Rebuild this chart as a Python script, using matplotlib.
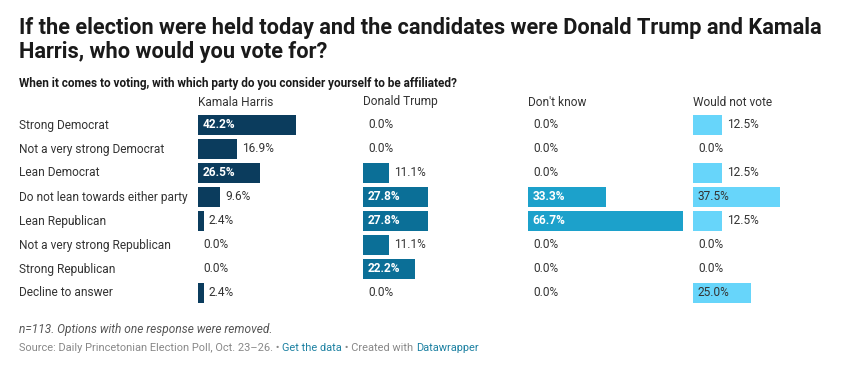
import matplotlib
matplotlib.use("Agg")
import matplotlib.pyplot as plt

plt.rcParams['font.family'] = ['Roboto', 'DejaVu Sans']

categories = ['Strong Democrat', 'Not a very strong Democrat', 'Lean Democrat',
              'Do not lean towards either party', 'Lean Republican',
              'Not a very strong Republican', 'Strong Republican', 'Decline to answer']
columns = ['Kamala Harris', 'Donald Trump', "Don't know", 'Would not vote']
harris = [42.2, 16.9, 26.5, 9.6, 2.4, 0.0, 0.0, 2.4]
trump = [0.0, 0.0, 11.1, 27.8, 27.8, 11.1, 22.2, 0.0]
dont_know = [0.0, 0.0, 0.0, 33.3, 66.7, 0.0, 0.0, 0.0]
no_vote = [12.5, 0.0, 12.5, 37.5, 12.5, 0.0, 0.0, 25.0]
series = [harris, trump, dont_know, no_vote]
colors = ['#0b3c5d', '#0b6f97', '#1ca1cb', '#67d5fa']
inside_text = ['white', 'white', 'white', '#333333']

W, H = 845, 370
fig = plt.figure(figsize=(W / 100, H / 100), dpi=100)

fig.text(19 / W, 1 - 28 / H, 'If the election were held today and the candidates were Donald Trump and Kamala',
         fontsize=15.7, fontweight='bold', color='#1a1a1a', va='center', ha='left')
fig.text(19 / W, 1 - 52 / H, 'Harris, who would you vote for?',
         fontsize=15.7, fontweight='bold', color='#1a1a1a', va='center', ha='left')
fig.text(19 / W, 1 - 83 / H, 'When it comes to voting, with which party do you consider yourself to be affiliated?',
         fontsize=8.5, fontweight='bold', color='#1a1a1a', va='center', ha='left')

row_top = 113      # top of first row (px)
row_h = 24.0
n = len(categories)
for i, c in enumerate(categories):
    fig.text(19 / W, 1 - (row_top + row_h * (i + 0.5)) / H, c, fontsize=8.6, color='#333333',
             va='center', ha='left')

x0s = [198, 363, 528, 693]
px_per = 2.33
ax_w = 155
for k in range(4):
    ax = fig.add_axes([x0s[k] / W, 1 - (row_top + row_h * n) / H, ax_w / W, row_h * n / H])
    ax.set_xlim(0, ax_w / px_per)
    ax.set_ylim(n - 0.5, -0.5)
    ax.axis('off')
    vals = series[k]
    ax.barh(range(n), vals, height=0.83, color=colors[k])
    for i, v in enumerate(vals):
        lab = f'{v:.1f}%'
        if v >= 20:
            ax.text(1.8, i, lab, color=inside_text[k], fontsize=8.6, va='center', ha='left',
                    fontweight='bold' if inside_text[k] == 'white' else 'normal')
        else:
            ax.text(v + 2.2, i, lab, color='#333333', fontsize=8.6, va='center', ha='left')
    fig.text(x0s[k] / W, 1 - 102 / H, columns[k], fontsize=8.6, color='#333333', va='center', ha='left')

fig.text(19 / W, 1 - 329 / H, 'n=113. Options with one response were removed.', fontsize=8.6, style='italic',
         color='#555555', va='center', ha='left')
fs = 7.9
t = fig.text(19 / W, 1 - 348 / H, 'Source: Daily Princetonian Election Poll, Oct. 23–26. • ', fontsize=fs,
             color='#888888', va='center', ha='left')
fig.canvas.draw()
r = fig.canvas.get_renderer()
bb = t.get_window_extent(r)
t2 = fig.text(bb.x1 / W, 1 - 348 / H, 'Get the data', fontsize=fs, color='#1d81a2', va='center', ha='left')
bb = t2.get_window_extent(r)
t3 = fig.text(bb.x1 / W, 1 - 348 / H, ' • Created with ', fontsize=fs, color='#888888', va='center', ha='left')
bb = t3.get_window_extent(r)
fig.text(bb.x1 / W, 1 - 348 / H, 'Datawrapper', fontsize=fs, color='#1d81a2', va='center', ha='left')

fig.savefig('out.png', dpi=100, facecolor='white')
